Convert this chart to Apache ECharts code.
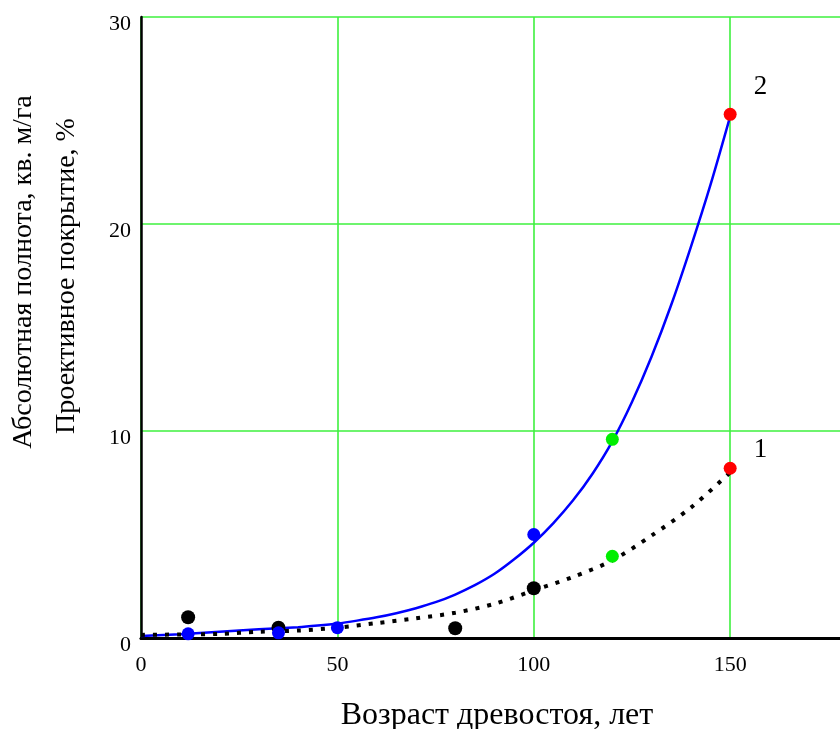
<!DOCTYPE html>
<html>
<head>
<meta charset="utf-8">
<script src="https://cdn.jsdelivr.net/npm/echarts@6/dist/echarts.min.js"></script>
<style>
  html, body { margin: 0; padding: 0; background: #fff; overflow: hidden; }
  #chart { width: 840px; height: 729px; }
</style>
</head>
<body>
<div id="chart"></div>
<script>
// fitted curves
var curveAge1 = [0, 10, 20, 30, 40, 50, 60, 70, 80, 90, 100, 110, 120, 130, 140, 150];
var curve1 = [0.15, 0.17, 0.2, 0.3, 0.36, 0.5, 0.72, 0.95, 1.22, 1.65, 2.3, 2.95, 3.75, 4.95, 6.3, 8.0];
var curveAge2 = [0, 10, 20, 30, 40, 45, 50, 55, 60, 65, 70, 75, 80, 85, 90, 95, 100,
  105, 110, 115, 120, 125, 130, 135, 140, 145, 150];
var curve2 = [0.1, 0.18, 0.3, 0.42, 0.52, 0.6, 0.7, 0.84, 1.0, 1.2, 1.44, 1.73, 2.1, 2.55, 3.1, 3.8, 4.6,
  5.55, 6.65, 7.95, 9.5, 11.4, 13.6, 16.1, 18.9, 21.9, 25.2];

// measured points
var pointAge1 = [12, 35, 80, 100];
var pointVal1 = [1.0, 0.5, 0.47, 2.4];
var pointAge2 = [12, 35, 50, 100];
var pointVal2 = [0.2, 0.25, 0.5, 5.0];
var greenAge = [120, 120];
var greenVal = [9.6, 3.95];
var redAge = [150, 150];
var redVal = [25.3, 8.2];
var curveNames = ["2", "1"];

var xTitle = "Возраст древостоя, лет";
var yTitle1 = "Абсолютная полнота, кв. м/га";
var yTitle2 = "Проективное покрытие, %";

var font = "'Liberation Serif', 'Times New Roman', serif";
var gridGreen = "#3ef03e";

function pairs(xs, ys) {
  return xs.map(function (x, i) { return [x, ys[i]]; });
}

var myChart = echarts.init(document.getElementById("chart"));
var option = {
  animation: false,
  grid: { left: 141, width: 707, top: 17, bottom: 91, outerBoundsMode: "none" },
  xAxis: [
    {
      type: "value",
      min: 0,
      max: 180,
      interval: 50,
      axisLine: { show: true, onZero: false, lineStyle: { color: "#000", width: 2.5 } },
      axisTick: { show: false },
      axisLabel: {
        fontFamily: font,
        fontSize: 22,
        color: "#000",
        margin: 16,
        showMaxLabel: false,
      },
      splitLine: { show: true, lineStyle: { color: gridGreen, width: 1.6 } },
    },
    {
      type: "value",
      position: "top",
      min: 0,
      max: 180,
      axisLine: { show: true, lineStyle: { color: "#000", width: 3 } },
      axisTick: { show: false },
      axisLabel: { show: false },
      splitLine: { show: false },
    },
  ],
  yAxis: {
    type: "value",
    min: 0,
    max: 30,
    interval: 10,
    axisLine: { show: true, onZero: false, lineStyle: { color: "#000", width: 2.5 } },
    axisTick: { show: false },
    axisLabel: {
      fontFamily: font,
      fontSize: 22,
      color: "#000",
      margin: 10,
      verticalAlign: "top",
      lineHeight: 14,
    },
    splitLine: { show: true, lineStyle: { color: gridGreen, width: 1.6 } },
  },
  graphic: [
    {
      type: "text",
      x: 24,
      y: 272,
      rotation: Math.PI / 2,
      style: {
        text: yTitle1,
        fontFamily: font,
        fontSize: 28,
        fill: "#000",
        align: "center",
        verticalAlign: "middle",
      },
    },
    {
      type: "text",
      x: 67,
      y: 276,
      rotation: Math.PI / 2,
      style: {
        text: yTitle2,
        fontFamily: font,
        fontSize: 28,
        fill: "#000",
        align: "center",
        verticalAlign: "middle",
      },
    },
    {
      type: "text",
      x: 497,
      y: 716,
      style: {
        text: xTitle,
        fontFamily: font,
        fontSize: 32,
        fill: "#000",
        align: "center",
        verticalAlign: "middle",
      },
    },
  ],
  series: [
    {
      type: "line",
      data: pairs(curveAge2, curve2),
      smooth: 0.3,
      showSymbol: false,
      lineStyle: { color: "#0000ff", width: 2.5 },
      z: 2,
    },
    {
      type: "line",
      data: pairs(curveAge1, curve1),
      smooth: 0.3,
      showSymbol: false,
      lineStyle: { color: "#000", width: 4, type: [4, 8] },
      z: 2,
    },
    {
      type: "scatter",
      data: pairs(pointAge1, pointVal1),
      symbolSize: 14,
      itemStyle: { color: "#000", opacity: 1 },
      z: 3,
    },
    {
      type: "scatter",
      data: pairs(pointAge2, pointVal2),
      symbolSize: 13,
      itemStyle: { color: "#0000ff", opacity: 1 },
      z: 4,
    },
    {
      type: "scatter",
      data: pairs(greenAge, greenVal),
      symbolSize: 13,
      itemStyle: { color: "#00ee00", opacity: 1 },
      z: 4,
    },
    {
      type: "scatter",
      data: redAge.map(function (x, i) {
        return {
          value: [x, redVal[i]],
          label: {
            show: true,
            formatter: curveNames[i],
            position: "right",
            offset: i === 0 ? [12, -27] : [12, -18],
            fontFamily: font,
            fontSize: 27,
            color: "#000",
          },
        };
      }),
      symbolSize: 13,
      itemStyle: { color: "#ff0000", opacity: 1 },
      z: 4,
    },
  ],
};
myChart.setOption(option);
</script>
</body>
</html>
